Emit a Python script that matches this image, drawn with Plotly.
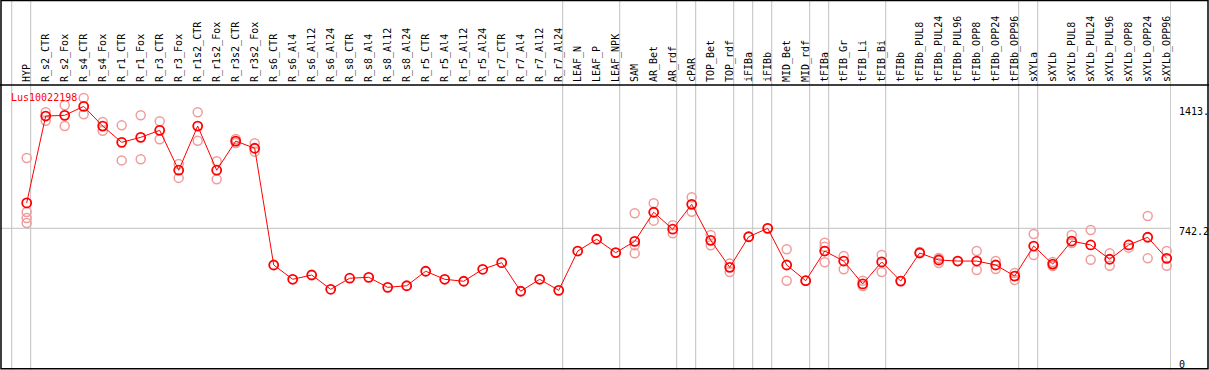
import plotly.graph_objects as go

gene_name = "Lus10022198"

categories = [
    "HYP", "R_s2_CTR", "R_s2_Fox", "R_s4_CTR", "R_s4_Fox", "R_r1_CTR", "R_r1_Fox",
    "R_r3_CTR", "R_r3_Fox", "R_r1s2_CTR", "R_r1s2_Fox", "R_r3s2_CTR", "R_r3s2_Fox",
    "R_s6_CTR", "R_s6_Al4", "R_s6_Al12", "R_s6_Al24", "R_s8_CTR", "R_s8_Al4",
    "R_s8_Al12", "R_s8_Al24", "R_r5_CTR", "R_r5_Al4", "R_r5_Al12", "R_r5_Al24",
    "R_r7_CTR", "R_r7_Al4", "R_r7_Al12", "R_r7_Al24", "LEAF_N", "LEAF_P", "LEAF_NPK",
    "SAM", "AR_Bet", "AR_rdf", "cPAR", "TOP_Bet", "TOP_rdf", "iFIBa", "iFIBb",
    "MID_Bet", "MID_rdf", "tFIBa", "tFIB_Gr", "tFIB_Li", "tFIB_Bi", "tFIBb",
    "tFIBb_PUL8", "tFIBb_PUL24", "tFIBb_PUL96", "tFIBb_OPP8", "tFIBb_OPP24",
    "tFIBb_OPP96", "sXYLa", "sXYLb", "sXYLb_PUL8", "sXYLb_PUL24", "sXYLb_PUL96",
    "sXYLb_OPP8", "sXYLb_OPP24", "sXYLb_OPP96",
]

mean_values = [
    884, 1370, 1374, 1424, 1314, 1223, 1251, 1290, 1067, 1314, 1067, 1230, 1190,
    537, 457, 481, 401, 463, 468, 412, 421, 502, 457, 446, 513, 550, 390, 457, 395,
    615, 681, 606, 669, 832, 737, 876, 675, 524, 695, 742, 537, 449, 615, 559, 431,
    554, 447, 604, 565, 559, 559, 537, 475, 643, 542, 671, 649, 569, 649, 692, 574,
]

replicate_values = [
    [1135, 833, 800, 772], [1391, 1344], [1430, 1314], [1471, 1380], [1337, 1288],
    [1318, 1122], [1374, 1128], [1341, 1240], [1102, 1024], [1391, 1232],
    [1117, 1016], [1242, 1219], [1218, 1171],
    [], [], [], [], [], [], [], [], [], [], [], [], [], [], [], [],
    [], [], [], [826, 647, 602], [882, 785], [759, 714], [916, 835], [705, 647],
    [546, 498], [695], [742], [625, 449], [449], [662, 639, 552], [587, 513],
    [449, 419], [593, 498], [447], [610], [576, 548], [559], [615, 509], [559, 515],
    [492, 453], [710, 593], [554, 531], [705, 660], [733, 566], [602, 533], [634],
    [811, 574], [615, 533],
]

# index of the last category in each group (group separators)
group_last_index = [-1, 0, 28, 31, 34, 35, 37, 38, 39, 41, 42, 45, 52, 53, 60]

y_tick_values = [0, 742.2, 1413]
y_tick_labels = ["0", "742.2", "1413."]
grid_value = 742.2

# ---- layout geometry (pixels) ----
W, H = 1209, 370
M_R, M_T = 38, 85
PLOT_W = W - M_R
PLOT_H = H - M_T
PX_PER_IDX = 19.0
X0_PX = 26.7
Y0_PX = 361.0          # pixel row of value 0
PX_PER_UNIT = 0.1788

x_range = [-X0_PX / PX_PER_IDX, (PLOT_W - X0_PX) / PX_PER_IDX]
y_range = [(Y0_PX - H) / PX_PER_UNIT, (Y0_PX - M_T) / PX_PER_UNIT]

FONT = "DejaVu Sans Mono"
RED = "#ff0000"
PINK = "#f09c9c"
GRAY = "#c0c0c0"

idx = list(range(len(categories)))
rep_x, rep_y = [], []
for i, reps in enumerate(replicate_values):
    for v in reps:
        rep_x.append(i)
        rep_y.append(v)

fig = go.Figure()
fig.add_trace(go.Scatter(
    x=rep_x, y=rep_y, mode="markers", cliponaxis=False, hoverinfo="y",
    marker=dict(symbol="circle-open", size=9, color=PINK, line=dict(width=1.5, color=PINK)),
    showlegend=False,
))
fig.add_trace(go.Scatter(
    x=idx, y=mean_values, mode="lines+markers", cliponaxis=False,
    line=dict(color=RED, width=1),
    marker=dict(symbol="circle-open", size=9, color=RED, line=dict(width=1.8, color=RED)),
    showlegend=False,
))

shapes = []
top_paper = 1 + M_T / PLOT_H
right_paper = W / PLOT_W
for g in group_last_index:
    xv = g + 0.21
    shapes.append(dict(type="line", xref="x", yref="paper", x0=xv, x1=xv,
                       y0=0, y1=top_paper, line=dict(color=GRAY, width=1), layer="below"))
shapes.append(dict(type="line", xref="paper", yref="y", x0=0, x1=1,
                   y0=grid_value, y1=grid_value, line=dict(color=GRAY, width=1), layer="below"))
shapes.append(dict(type="line", xref="paper", yref="paper", x0=0, x1=right_paper,
                   y0=1, y1=1, line=dict(color="black", width=1.5)))
shapes.append(dict(type="rect", xref="paper", yref="paper",
                   x0=1 / PLOT_W, x1=1208 / PLOT_W, y0=1.3 / PLOT_H, y1=369.5 / PLOT_H,
                   line=dict(color="black", width=1.5), fillcolor="rgba(0,0,0,0)"))

fig.update_layout(
    width=W, height=H,
    margin=dict(l=0, r=M_R, t=M_T, b=0, pad=0),
    paper_bgcolor="white", plot_bgcolor="white",
    font=dict(family=FONT, size=10, color="black"),
    shapes=shapes,
    hovermode=False,
    xaxis=dict(
        range=x_range, side="top", tickmode="array", tickvals=idx, ticktext=categories,
        tickangle=-90, showgrid=False, zeroline=False, showline=False, ticks="",
        ticklabelstandoff=2,
        tickfont=dict(family=FONT, size=10, color="black"),
    ),
    yaxis=dict(
        range=y_range, side="right", tickmode="array", tickvals=y_tick_values,
        ticktext=y_tick_labels, ticklabelposition="outside",
        ticklabelshift=3, ticklabelstandoff=0,
        showgrid=False, zeroline=False, showline=False,
        ticks="outside", ticklen=5, tickcolor="rgba(0,0,0,0)",
        tickfont=dict(family=FONT, size=10, color="black"),
    ),
    annotations=[dict(
        text=gene_name, xref="paper", yref="paper", x=9 / PLOT_W, y=(H - 97) / PLOT_H,
        xanchor="left", yanchor="middle", showarrow=False,
        font=dict(family=FONT, size=10, color=RED),
    )],
)

fig.write_html(
    "out.html",
    config={"displayModeBar": False, "staticPlot": True},
    post_script="document.body.style.margin='0';document.body.style.overflow='hidden';",
)
